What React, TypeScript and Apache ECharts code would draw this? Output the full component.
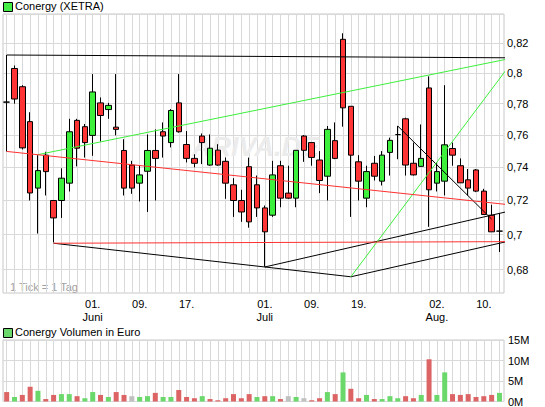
import React, { useEffect, useRef } from "react";
import * as echarts from "echarts";

// one candle per XETRA trading day, 17.05.2010 .. 12.08.2010 : [open, close, low, high]
const candles: number[][] = [
  [0.781, 0.781, 0.7498, 0.812],
  [0.803, 0.783, 0.78, 0.805],
  [0.791, 0.752, 0.751, 0.792],
  [0.7685, 0.7245, 0.72, 0.7745],
  [0.7274, 0.738, 0.7006, 0.7475],
  [0.7475, 0.7374, 0.723, 0.7496],
  [0.72, 0.7097, 0.6955, 0.72],
  [0.72, 0.7334, 0.7097, 0.7394],
  [0.7304, 0.7621, 0.7254, 0.7703],
  [0.7693, 0.7518, 0.7406, 0.7703],
  [0.7653, 0.7553, 0.746, 0.767],
  [0.7598, 0.7876, 0.7471, 0.7993],
  [0.7805, 0.7724, 0.756, 0.784],
  [0.7762, 0.7789, 0.7703, 0.7805],
  [0.765, 0.7636, 0.7598, 0.7993],
  [0.7504, 0.7274, 0.723, 0.7574],
  [0.7414, 0.7274, 0.724, 0.744],
  [0.7304, 0.7354, 0.7194, 0.741],
  [0.7376, 0.7504, 0.7132, 0.7604],
  [0.7504, 0.7455, 0.72, 0.7636],
  [0.7621, 0.7594, 0.746, 0.768],
  [0.7553, 0.7756, 0.7523, 0.7765],
  [0.7805, 0.7621, 0.7615, 0.7993],
  [0.7541, 0.7455, 0.743, 0.7625],
  [0.7455, 0.7425, 0.74, 0.748],
  [0.7594, 0.7553, 0.742, 0.761],
  [0.7414, 0.7518, 0.741, 0.7604],
  [0.7506, 0.7414, 0.741, 0.7543],
  [0.7437, 0.7304, 0.721, 0.746],
  [0.7294, 0.72, 0.7103, 0.7334],
  [0.72, 0.7132, 0.7074, 0.7264],
  [0.7404, 0.7074, 0.704, 0.746],
  [0.7294, 0.7156, 0.7103, 0.735],
  [0.7156, 0.7016, 0.6816, 0.717],
  [0.7113, 0.7354, 0.7103, 0.744],
  [0.741, 0.7214, 0.716, 0.744],
  [0.7244, 0.7214, 0.721, 0.741],
  [0.7214, 0.7505, 0.716, 0.7505],
  [0.7594, 0.7505, 0.7434, 0.76],
  [0.7553, 0.7461, 0.741, 0.7555],
  [0.7445, 0.732, 0.7244, 0.75],
  [0.7346, 0.7636, 0.72, 0.7657],
  [0.7565, 0.7455, 0.745, 0.768],
  [0.8226, 0.7773, 0.7653, 0.8267],
  [0.7783, 0.7475, 0.7103, 0.7783],
  [0.7434, 0.7316, 0.72, 0.7475],
  [0.7214, 0.7374, 0.716, 0.741],
  [0.7425, 0.7346, 0.732, 0.747],
  [0.7316, 0.7475, 0.729, 0.75],
  [0.7492, 0.7567, 0.735, 0.7584],
  [0.7603, 0.7603, 0.745, 0.7657],
  [0.7703, 0.7414, 0.735, 0.771],
  [0.7425, 0.7354, 0.735, 0.7553],
  [0.7406, 0.7455, 0.7406, 0.7667],
  [0.7902, 0.7264, 0.7045, 0.7978],
  [0.7304, 0.7374, 0.7254, 0.743],
  [0.7316, 0.7539, 0.723, 0.792],
  [0.7516, 0.7475, 0.741, 0.7553],
  [0.741, 0.7306, 0.7306, 0.7455],
  [0.7324, 0.7274, 0.723, 0.739],
  [0.7384, 0.7256, 0.725, 0.739],
  [0.7256, 0.7117, 0.7117, 0.727],
  [0.7113, 0.7016, 0.7016, 0.7175],
  [0.702, 0.702, 0.69, 0.7126],
];

// volume in Mio. Euro, same days
const volumes: number[] = [
  2.3, 1.1, 1.6, 3.6, 2.6, 0.6, 1.6, 1.8, 1.8, 1.3,
  0.8, 2.3, 1.6, 1.1, 2.3, 1.6, 1.3, 1.1, 1.3, 2.1,
  1.1, 1.1, 2.8, 1.1, 0.8, 1.3, 0.6, 0.3, 0.8, 1.8,
  0.8, 1.8, 1.1, 1.3, 1.3, 0.6, 1.3, 1.1, 0.8, 0.3,
  0.8, 2.3, 1.8, 7.1, 3.1, 0.8, 1.6, 0.6, 0.6, 1.3,
  0.8, 1.3, 0.8, 1.6, 10.3, 1.6, 7.1, 1.8, 1.6, 1.8,
  1.1, 1.3, 1.6, 2.1,
];
const closeBefore = 0.79; // close of 14.05., only for the first volume colour

const dayLabelPos = [11, 17, 23, 33, 39, 45, 55, 61];
const dayLabels = ["01.\nJuni", "09.", "17.", "01.\nJuli", "09.", "19.", "02.\nAug.", "10."];

const priceTicks = [0.68, 0.7, 0.72, 0.74, 0.76, 0.78, 0.8, 0.82, 0.84];
const priceLabels = [0.68, 0.7, 0.72, 0.74, 0.76, 0.78, 0.8, 0.82];

// drawn trend lines, points as [day, price]
const blackLines = [
  [[0, 0.812], [68.8, 0.81]],
  [[6, 0.695], [33, 0.6815], [44, 0.676], [68.8, 0.7009]],
  [[33, 0.6815], [68.8, 0.7185]],
  [[50, 0.7657], [62, 0.709]],
];
const greenLines = [
  [[4, 0.7478], [67.3, 0.8128]],
  [[44, 0.676], [65, 0.81]],
];
const redLines = [
  [[0, 0.7498], [66.65, 0.7163]],
  [[6, 0.695], [68.8, 0.696]],
  [[65, 0.81], [65, 0.6955]],
];

const FONT = "Liberation Sans";
const GRID = "#d9d9d9";

const App: React.FC = () => {
  const chartRef = useRef<HTMLDivElement | null>(null);

  useEffect(() => {
    const dom = chartRef.current;
    if (!dom) return;
    const chart = echarts.init(dom, undefined, { renderer: "svg" });

    const allDays = candles.map((_, i) => i);

    const volColor = (i: number) => {
      const prev = i === 0 ? closeBefore : candles[i - 1][1];
      const c = candles[i][1];
      if (c > prev) return "#6ad86a";
      if (c < prev) return "#dc6464";
      return "#c0c0c0";
    };

    const trend = (lines: number[][][], color: string) =>
      lines.map((pts) => ({
        type: "line",
        xAxisIndex: 0,
        yAxisIndex: 0,
        data: pts,
        symbol: "none",
        clip: false,
        silent: true,
        z: 4,
        lineStyle: { color, width: 1 },
      }));

    const xBase = {
      type: "value",
      min: -0.47,
      max: 63.58,
      axisLine: { show: false },
      axisTick: { show: false, customValues: allDays },
      splitLine: { show: true, lineStyle: { color: GRID, width: 1 } },
    };

    const option = {
      animation: false,
      textStyle: { fontFamily: FONT },
      grid: [
        { left: 3, right: 41, top: 14, bottom: 114, show: true, borderColor: "#c8c8c8", borderWidth: 1 },
        { left: 3, right: 41, top: 340, bottom: 4, show: true, borderColor: "#c8c8c8", borderWidth: 1 },
      ],
      xAxis: [
        {
          ...xBase,
          gridIndex: 0,
          axisLabel: {
            customValues: dayLabelPos,
            formatter: (v: number) => {
              const k = dayLabelPos.indexOf(Math.round(v));
              return k >= 0 ? dayLabels[k] : "";
            },
            color: "#000",
            fontSize: 11,
            lineHeight: 13,
            margin: 4,
            fontFamily: FONT,
          },
        },
        { ...xBase, gridIndex: 1, axisLabel: { show: false } },
      ],
      yAxis: [
        {
          type: "log",
          logBase: 10,
          gridIndex: 0,
          position: "right",
          min: 0.667,
          max: 0.84,
          axisLine: { show: false },
          axisTick: { show: false, customValues: priceTicks },
          splitLine: { show: true, lineStyle: { color: GRID, width: 1 } },
          axisLabel: {
            customValues: priceLabels,
            formatter: (v: number) => String(Math.round(v * 100) / 100).replace(".", ","),
            color: "#000",
            fontSize: 11,
            margin: 3,
            fontFamily: FONT,
          },
        },
        {
          type: "value",
          gridIndex: 1,
          position: "right",
          min: 0,
          max: 15,
          interval: 5,
          axisLine: { show: false },
          axisTick: { show: false },
          splitLine: { show: true, lineStyle: { color: GRID, width: 1 } },
          axisLabel: {
            formatter: (v: number) => v + "M",
            color: "#000",
            fontSize: 11,
            margin: 4,
            fontFamily: FONT,
          },
        },
      ],
      graphic: [
        { type: "rect", left: 3, top: 2, shape: { width: 9, height: 9 }, style: { fill: "#44ee44", stroke: "#000", lineWidth: 1 } },
        { type: "text", left: 15, top: 0, style: { text: "Conergy (XETRA)", font: `11px ${FONT}`, fill: "#000" } },
        { type: "rect", left: 3, top: 328, shape: { width: 9, height: 9 }, style: { fill: "#6ad86a", stroke: "#000", lineWidth: 1 } },
        { type: "text", left: 15, top: 326, style: { text: "Conergy Volumen in Euro", font: `11px ${FONT}`, fill: "#000" } },
        { type: "text", left: 10, top: 281, style: { text: "1 Tick = 1 Tag", font: `11px ${FONT}`, fill: "#a0a0a0" } },
        { type: "text", left: 192, top: 133, z: 1, style: { text: "ARIVA.DE", font: `italic bold 27px ${FONT}`, fill: "#ececec" } },
      ],
      series: [
        {
          type: "candlestick",
          xAxisIndex: 0,
          yAxisIndex: 0,
          z: 3,
          barWidth: 6,
          silent: true,
          data: candles.map((c, i) => [i, c[0], c[1], c[2], c[3]]),
          itemStyle: {
            color: "#3cf03c",
            color0: "#ff3535",
            borderColor: "#000",
            borderColor0: "#000",
            borderColorDoji: "#000",
            borderWidth: 1,
          },
        },
        ...trend(blackLines, "#000000"),
        ...trend(greenLines, "#3cf03c"),
        ...trend(redLines, "#ff3030"),
        {
          type: "bar",
          xAxisIndex: 1,
          yAxisIndex: 1,
          barWidth: 5,
          silent: true,
          data: volumes.map((v, i) => ({ value: [i, v], itemStyle: { color: volColor(i) } })),
        },
      ],
    };

    chart.setOption(option as any);
    return () => {
      chart.dispose();
    };
  }, []);

  return (
    <div
      ref={chartRef}
      style={{ position: "absolute", left: 0, top: 0, width: 545, height: 407, background: "#fff" }}
    />
  );
};

export default App;
